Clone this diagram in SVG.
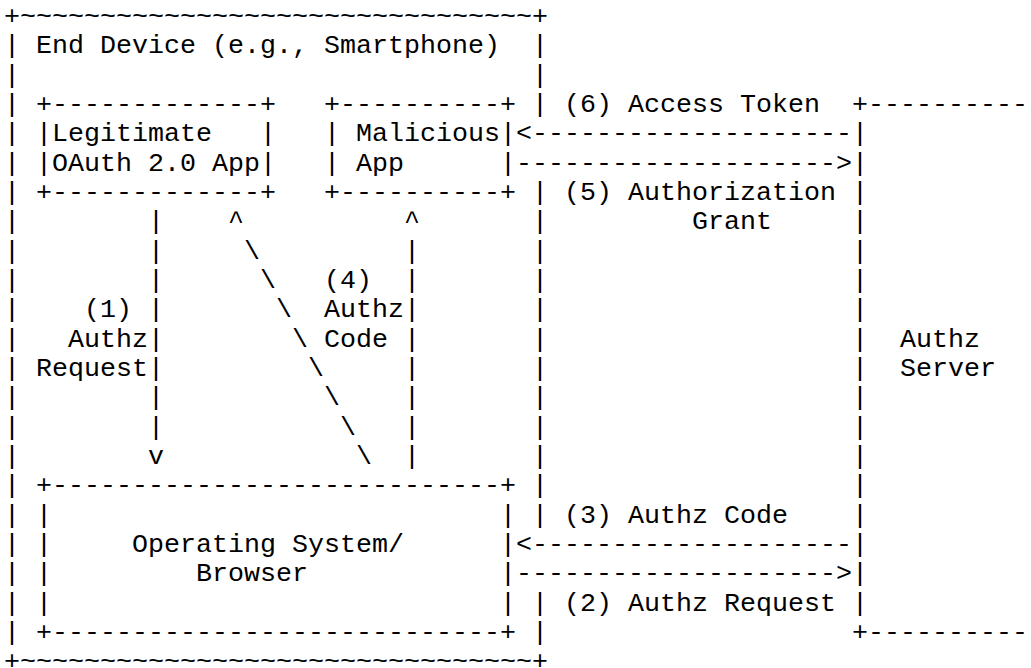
<svg xmlns="http://www.w3.org/2000/svg" width="1031" height="668" viewBox="0 0 1031 668">
<style>
.t { font-family: "Courier New", "Liberation Mono", monospace; font-size: 26.667px; fill: #000; white-space: pre; }
</style>
<rect x="0" y="0" width="1031" height="668" fill="#fff"/>
<g id="end-device">
<text class="t" xml:space="preserve" x="4" y="24">+~~~~~~~~~~~~~~~~~~~~~~~~~~~~~~~~+</text>
<text class="t" xml:space="preserve" x="4" y="669.33">+~~~~~~~~~~~~~~~~~~~~~~~~~~~~~~~~+</text>
<text class="t" x="36" y="53.33">End Device (e.g., Smartphone)</text>
<text class="t"><tspan x="4" y="53.33">|</tspan><tspan x="4" y="82.67">|</tspan><tspan x="4" y="112">|</tspan><tspan x="4" y="141.33">|</tspan><tspan x="4" y="170.67">|</tspan><tspan x="4" y="200">|</tspan><tspan x="4" y="229.33">|</tspan><tspan x="4" y="258.67">|</tspan><tspan x="4" y="288">|</tspan><tspan x="4" y="317.33">|</tspan><tspan x="4" y="346.67">|</tspan><tspan x="4" y="376">|</tspan><tspan x="4" y="405.33">|</tspan><tspan x="4" y="434.67">|</tspan><tspan x="4" y="464">|</tspan><tspan x="4" y="493.33">|</tspan><tspan x="4" y="522.67">|</tspan><tspan x="4" y="552">|</tspan><tspan x="4" y="581.33">|</tspan><tspan x="4" y="610.67">|</tspan><tspan x="4" y="640">|</tspan></text>
<text class="t"><tspan x="532" y="53.33">|</tspan><tspan x="532" y="82.67">|</tspan><tspan x="532" y="112">|</tspan><tspan x="532" y="200">|</tspan><tspan x="532" y="229.33">|</tspan><tspan x="532" y="258.67">|</tspan><tspan x="532" y="288">|</tspan><tspan x="532" y="317.33">|</tspan><tspan x="532" y="346.67">|</tspan><tspan x="532" y="376">|</tspan><tspan x="532" y="405.33">|</tspan><tspan x="532" y="434.67">|</tspan><tspan x="532" y="464">|</tspan><tspan x="532" y="493.33">|</tspan><tspan x="532" y="522.67">|</tspan><tspan x="532" y="610.67">|</tspan><tspan x="532" y="640">|</tspan></text>
</g>
<g id="legitimate-app">
<text class="t" xml:space="preserve" x="36" y="112">+-------------+</text>
<text class="t" xml:space="preserve" x="36" y="141.33">|Legitimate   |</text>
<text class="t" xml:space="preserve" x="36" y="170.67">|OAuth 2.0 App|</text>
<text class="t" xml:space="preserve" x="36" y="200">+-------------+</text>
</g>
<g id="malicious-app">
<text class="t" xml:space="preserve" x="324" y="112">+----------+</text>
<text class="t" xml:space="preserve" x="324" y="141.33">| Malicious|</text>
<text class="t" xml:space="preserve" x="324" y="170.67">| App      |</text>
<text class="t" xml:space="preserve" x="324" y="200">+----------+</text>
</g>
<g id="os-browser">
<text class="t" xml:space="preserve" x="36" y="493.33">+----------------------------+</text>
<text class="t" xml:space="preserve" x="36" y="522.67">|                            |</text>
<text class="t" xml:space="preserve" x="36" y="552">|     Operating System/      |</text>
<text class="t" xml:space="preserve" x="36" y="581.33">|         Browser            |</text>
<text class="t" xml:space="preserve" x="36" y="610.67">|                            |</text>
<text class="t" xml:space="preserve" x="36" y="640">+----------------------------+</text>
</g>
<g id="authz-server">
<text class="t" xml:space="preserve" x="852" y="112">+----------</text>
<text class="t" xml:space="preserve" x="852" y="640">+----------</text>
<text class="t"><tspan x="852" y="141.33">|</tspan><tspan x="852" y="170.67">|</tspan><tspan x="852" y="200">|</tspan><tspan x="852" y="229.33">|</tspan><tspan x="852" y="258.67">|</tspan><tspan x="852" y="288">|</tspan><tspan x="852" y="317.33">|</tspan><tspan x="852" y="346.67">|</tspan><tspan x="852" y="376">|</tspan><tspan x="852" y="405.33">|</tspan><tspan x="852" y="434.67">|</tspan><tspan x="852" y="464">|</tspan><tspan x="852" y="493.33">|</tspan><tspan x="852" y="522.67">|</tspan><tspan x="852" y="552">|</tspan><tspan x="852" y="581.33">|</tspan><tspan x="852" y="610.67">|</tspan></text>
<text class="t" x="900" y="346.67">Authz</text>
<text class="t" x="900" y="376">Server</text>
</g>
<g id="connectors">
<text class="t"><tspan x="148" y="229.33">|</tspan><tspan x="148" y="258.67">|</tspan><tspan x="148" y="288">|</tspan><tspan x="148" y="317.33">|</tspan><tspan x="148" y="346.67">|</tspan><tspan x="148" y="376">|</tspan><tspan x="148" y="405.33">|</tspan><tspan x="148" y="434.67">|</tspan><tspan x="148" y="464">v</tspan></text>
<text class="t" x="84" y="317.33">(1)</text>
<text class="t" x="68" y="346.67">Authz</text>
<text class="t" x="36" y="376">Request</text>
<text class="t"><tspan x="404" y="229.33">^</tspan><tspan x="404" y="258.67">|</tspan><tspan x="404" y="288">|</tspan><tspan x="404" y="317.33">|</tspan><tspan x="404" y="346.67">|</tspan><tspan x="404" y="376">|</tspan><tspan x="404" y="405.33">|</tspan><tspan x="404" y="434.67">|</tspan><tspan x="404" y="464">|</tspan></text>
<text class="t" x="324" y="288">(4)</text>
<text class="t" x="324" y="317.33">Authz</text>
<text class="t" x="324" y="346.67">Code</text>
<text class="t"><tspan x="228" y="229.33">^</tspan><tspan x="244" y="258.67">\</tspan><tspan x="260" y="288">\</tspan><tspan x="276" y="317.33">\</tspan><tspan x="292" y="346.67">\</tspan><tspan x="308" y="376">\</tspan><tspan x="324" y="405.33">\</tspan><tspan x="340" y="434.67">\</tspan><tspan x="356" y="464">\</tspan></text>
<text class="t" xml:space="preserve" x="516" y="141.33">&lt;--------------------</text>
<text class="t" x="564" y="112">(6) Access Token</text>
<text class="t" xml:space="preserve" x="516" y="170.67">--------------------&gt;</text>
<text class="t" x="564" y="200">(5) Authorization</text>
<text class="t" x="692" y="229.33">Grant</text>
<text class="t" xml:space="preserve" x="516" y="552">&lt;--------------------</text>
<text class="t" x="564" y="522.67">(3) Authz Code</text>
<text class="t" xml:space="preserve" x="516" y="581.33">--------------------&gt;</text>
<text class="t" x="564" y="610.67">(2) Authz Request</text>
</g>
</svg>
